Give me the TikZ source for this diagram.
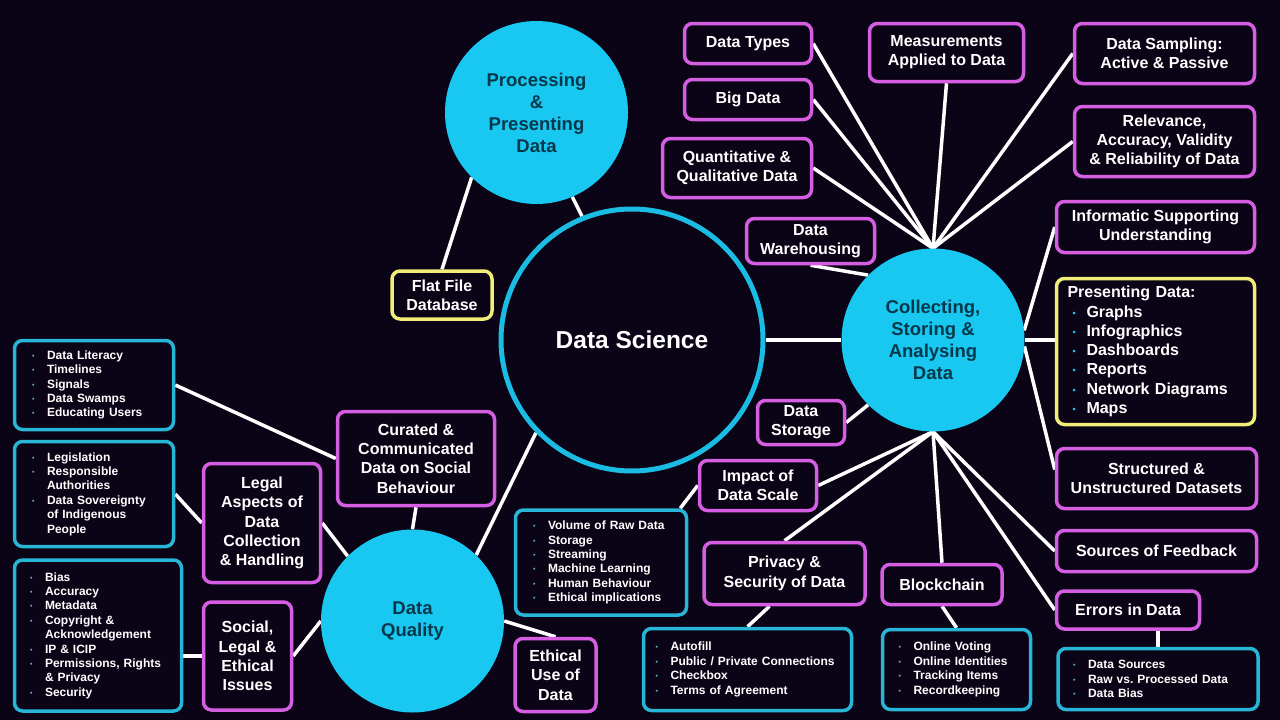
\documentclass[tikz,border=0pt]{standalone}
\usepackage{fontspec}
\setmainfont{Liberation Sans}
\frenchspacing
\hyphenpenalty=10000
\exhyphenpenalty=10000

\definecolor{bgc}{RGB}{11,3,22}
\definecolor{cyanc}{RGB}{24,200,240}
\definecolor{ringc}{RGB}{26,188,228}
\definecolor{tealc}{RGB}{6,56,76}
\definecolor{pinkc}{RGB}{214,94,226}
\definecolor{listc}{RGB}{40,182,214}
\definecolor{yelc}{RGB}{240,238,120}
\definecolor{bulc}{RGB}{100,170,195}

\newcommand{\itm}{\makebox[15pt][l]{\raisebox{1pt}{\textcolor{bulc}{\scriptsize\textbullet}}}}
\newcommand{\cnt}{\hspace*{15pt}}
\newcommand{\pitm}{\makebox[19pt][l]{\hspace{5pt}\raisebox{1pt}{\textcolor{cyanc}{\small\textbullet}}}}

\pgfdeclarelayer{lines}
\pgfsetlayers{lines,main}

\begin{document}
\begin{tikzpicture}[
x=1pt, y=-1pt,
bubble/.style={circle, fill=cyanc, text=tealc, minimum size=183pt, inner sep=0pt, align=center, font=\fontsize{18.5}{22}\selectfont\bfseries},
hub/.style={circle, draw=ringc, line width=5pt, fill=bgc, text=white, minimum size=262pt, font=\fontsize{24.5}{29}\selectfont\bfseries},
topic/.style={draw=pinkc, line width=3.5pt, rounded corners=8pt, fill=bgc, text=white, align=center, inner sep=2pt, font=\fontsize{16}{19.3}\selectfont\bfseries},
keybox/.style={topic, draw=yelc},
listbox/.style={topic, draw=listc, align=left, inner xsep=17.5pt, font=\fontsize{12}{14.4}\selectfont\bfseries},
link/.style={white, line width=3.5pt}
]
\useasboundingbox (0,0) rectangle (1280,720);

% circles
\node[hub] (ds) at (632,340) {Data Science};
\node[bubble] (ppd) at (536.5,112.5) {Processing\\\&\\Presenting\\Data};
\node[bubble] (csa) at (933,340) {Collecting,\\Storing \&\\Analysing\\Data};
\node[bubble] (dq) at (412.5,621) {Data\\Quality};

% around collecting
\node[topic, minimum width=127pt, minimum height=40pt] (dtypes) at (748,43.5) {Data Types};
\node[topic, minimum width=127pt, minimum height=40pt] (bigdata) at (748,99.5) {Big Data};
\node[topic, minimum width=149pt, minimum height=59pt] (quant) at (737,168) {Quantitative \&\\Qualitative Data};
\node[topic, minimum width=128pt, minimum height=45pt] (warehouse) at (810.5,241) {Data\\Warehousing};
\node[topic, minimum width=154pt, minimum height=58pt] (measure) at (946.5,52.5) {Measurements\\Applied to Data};
\node[topic, minimum width=180pt, minimum height=60pt] (sampling) at (1164.5,53.5) {Data Sampling:\\Active \& Passive};
\node[topic, minimum width=180pt, minimum height=70pt] (relevance) at (1164.5,141.5) {Relevance,\\Accuracy, Validity\\\& Reliability of Data};
\node[topic, minimum width=198pt, minimum height=51pt] (informatic) at (1155.5,227) {Informatic Supporting\\Understanding};
\node[keybox, align=left, minimum width=198pt, minimum height=146pt, text width=176pt] (presenting) at (1155.5,351.5)
{Presenting Data:\\
\pitm Graphs\\
\pitm Infographics\\
\pitm Dashboards\\
\pitm Reports\\
\pitm Network Diagrams\\
\pitm Maps};
\node[topic, minimum width=200pt, minimum height=60pt] (structured) at (1156.5,478.5) {Structured \&\\Unstructured Datasets};
\node[topic, minimum width=200pt, minimum height=41pt] (feedback) at (1156.5,551) {Sources of Feedback};
\node[topic, minimum width=143pt, minimum height=38pt] (errors) at (1128,610) {Errors in Data};
\node[topic, minimum width=87pt, minimum height=44pt] (storage) at (801,422.5) {Data\\Storage};
\node[topic, minimum width=117pt, minimum height=50pt] (impact) at (758,485.5) {Impact of\\Data Scale};
\node[topic, minimum width=161pt, minimum height=62pt] (privacy) at (784.5,573.5) {Privacy \&\\Security of Data};
\node[topic, minimum width=120pt, minimum height=40pt] (blockchain) at (942,584.5) {Blockchain};

% around data science and quality
\node[keybox, minimum width=100pt, minimum height=48pt] (flatfile) at (442,295) {Flat File\\Database};
\node[topic, minimum width=157pt, minimum height=94pt] (curated) at (416,458.5) {Curated \&\\Communicated\\Data on Social\\Behaviour};
\node[topic, minimum width=117pt, minimum height=119pt] (legal) at (262,523) {Legal\\Aspects of\\Data\\Collection\\\& Handling};
\node[topic, minimum width=88pt, minimum height=108pt] (social) at (247.5,656) {Social,\\Legal \&\\Ethical\\Issues};
\node[topic, minimum width=81pt, minimum height=73pt] (ethical) at (555.5,675) {Ethical\\Use of\\Data};

% lists
\node[listbox, minimum width=159pt, minimum height=89pt, text width=124pt] (literacyList) at (94,385)
{\itm Data Literacy\\
\itm Timelines\\
\itm Signals\\
\itm Data Swamps\\
\itm Educating Users};
\node[listbox, minimum width=159pt, minimum height=105pt, text width=124pt] (legislationList) at (94,494)
{\itm Legislation\\
\itm Responsible\\
\cnt Authorities\\
\itm Data Sovereignty\\
\cnt of Indigenous\\
\cnt People};
\node[listbox, inner xsep=15.5pt, minimum width=167pt, minimum height=151pt, text width=136pt] (biasList) at (98,635.5)
{\itm Bias\\
\itm Accuracy\\
\itm Metadata\\
\itm Copyright \&\\
\cnt Acknowledgement\\
\itm IP \& ICIP\\
\itm Permissions, Rights\\
\cnt \& Privacy\\
\itm Security};
\node[listbox, minimum width=171pt, minimum height=105pt, text width=136pt] (volumeList) at (601,562.5)
{\itm Volume of Raw Data\\
\itm Storage\\
\itm Streaming\\
\itm Machine Learning\\
\itm Human Behaviour\\
\itm Ethical implications};
\node[listbox, inner xsep=12pt, minimum width=208pt, minimum height=82pt, text width=184pt] (autofillList) at (747.5,669.5)
{\itm Autofill\\
\itm Public / Private Connections\\
\itm Checkbox\\
\itm Terms of Agreement};
\node[listbox, inner xsep=16pt, minimum width=148pt, minimum height=80pt, text width=116pt] (votingList) at (956.5,669.5)
{\itm Online Voting\\
\itm Online Identities\\
\itm Tracking Items\\
\itm Recordkeeping};
\node[listbox, inner xsep=15pt, minimum width=200pt, minimum height=61pt, text width=170pt] (sourcesList) at (1158,679)
{\itm Data Sources\\
\itm Raw vs. Processed Data\\
\itm Data Bias};

% connectors, kept under the nodes
\begin{pgfonlayer}{lines}
\fill[bgc] (0,0) rectangle (1280,720);
\draw[link] (ppd.293) -- (ds.112);
\draw[link] (ppd.225) -- (flatfile.north);
\draw[link] (ds) -- (csa);
\draw[link] (dq.46) -- (ds.224);

\foreach \n/\a in {dtypes/east, bigdata/east, quant/east, measure/south, sampling/west, relevance/west}
  \draw[link] (csa.north) -- (\n.\a);
\foreach \n/\a in {impact/east, privacy/north, blockchain/north, feedback/west, errors/west}
  \draw[link] (csa.south) -- (\n.\a);
\draw[link] (warehouse.south) -- (csa.135);
\draw[link] (storage.east) -- (csa.225);
\draw[link] (csa.6) -- (informatic.west);
\draw[link] (csa.east) -- (csa.east -| presenting.west);
\draw[link] (csa.-4) -- (structured.175);

\draw[link] ([xshift=-8pt]volumeList.north east) -- (impact.west);
\draw[link] ([xshift=-15pt]privacy.south) -- (autofillList.north);
\draw[link] (blockchain.south) -- (votingList.north);
\draw[link] (sourcesList.north) -- (sourcesList.north |- errors.south);

\draw[link] (dq.north) -- (curated.south);
\draw[link] (dq.135) -- (legal.east);
\draw[link] (social.east) -- (dq.west);
\draw[link] (dq.east) -- (ethical.north);
\draw[link] (literacyList.east) -- (curated.west);
\draw[link] (legislationList.east) -- (legal.west);
\draw[link] (social.west) -- (social.west -| biasList.east);
\end{pgfonlayer}

\end{tikzpicture}
\end{document}
